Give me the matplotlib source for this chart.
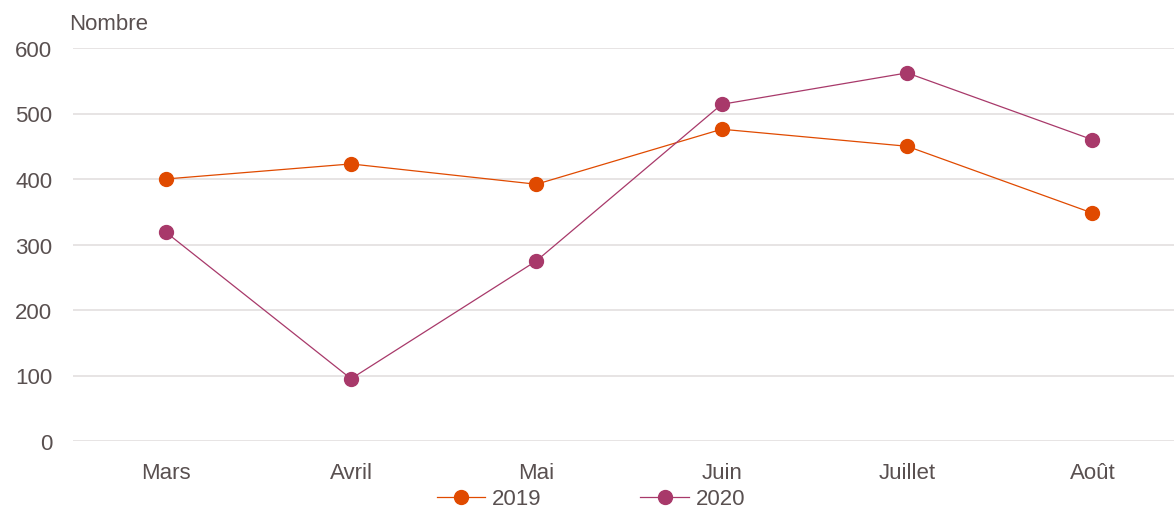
import matplotlib
matplotlib.use("Agg")
import matplotlib.pyplot as plt

months = ["Mars", "Avril", "Mai", "Juin", "Juillet", "Août"]
values_2019 = [400, 423, 392, 476, 450, 348]
values_2020 = [319, 95, 275, 514, 562, 460]
yticks = [0, 100, 200, 300, 400, 500, 600]

plt.rcParams['font.family'] = ['Liberation Sans', 'DejaVu Sans']
text_color = '#595050'
c2019 = '#e04a00'
c2020 = '#a8396a'

fig = plt.figure(figsize=(11.74, 5.10), dpi=100)
ax = fig.add_axes([73/1174, 68/510, 1101/1174, 393/510])
x = list(range(len(months)))
ax.plot(x, values_2019, color=c2019, lw=0.9, marker='o', ms=10, label='2019', zorder=3)
ax.plot(x, values_2020, color=c2020, lw=0.9, marker='o', ms=10, label='2020', zorder=3)

ax.set_xlim(-0.5, 5.44)
ax.set_ylim(0, 600)
ax.set_yticks(yticks)
ax.set_xticks(x)
ax.set_xticklabels(months)
ax.grid(axis='y', color='#e3dfdf', lw=1.2)
ax.set_axisbelow(True)
for s in ax.spines.values():
    s.set_visible(False)
ax.tick_params(axis='both', length=0, labelsize=16, colors=text_color)
ax.tick_params(axis='y', pad=15)
ax.tick_params(axis='x', pad=15)

fig.text(69/1174, 1 - 24/510, "Nombre", fontsize=16, color=text_color, ha='left', va='center')

leg = fig.legend(handles=ax.get_lines(), loc='center', bbox_to_anchor=(591/1174, 1 - 500/510),
                 ncol=2, frameon=False, fontsize=16, handlelength=2.2, handletextpad=0.3,
                 columnspacing=4.45, labelcolor=text_color)

fig.savefig("out.png", dpi=100)
